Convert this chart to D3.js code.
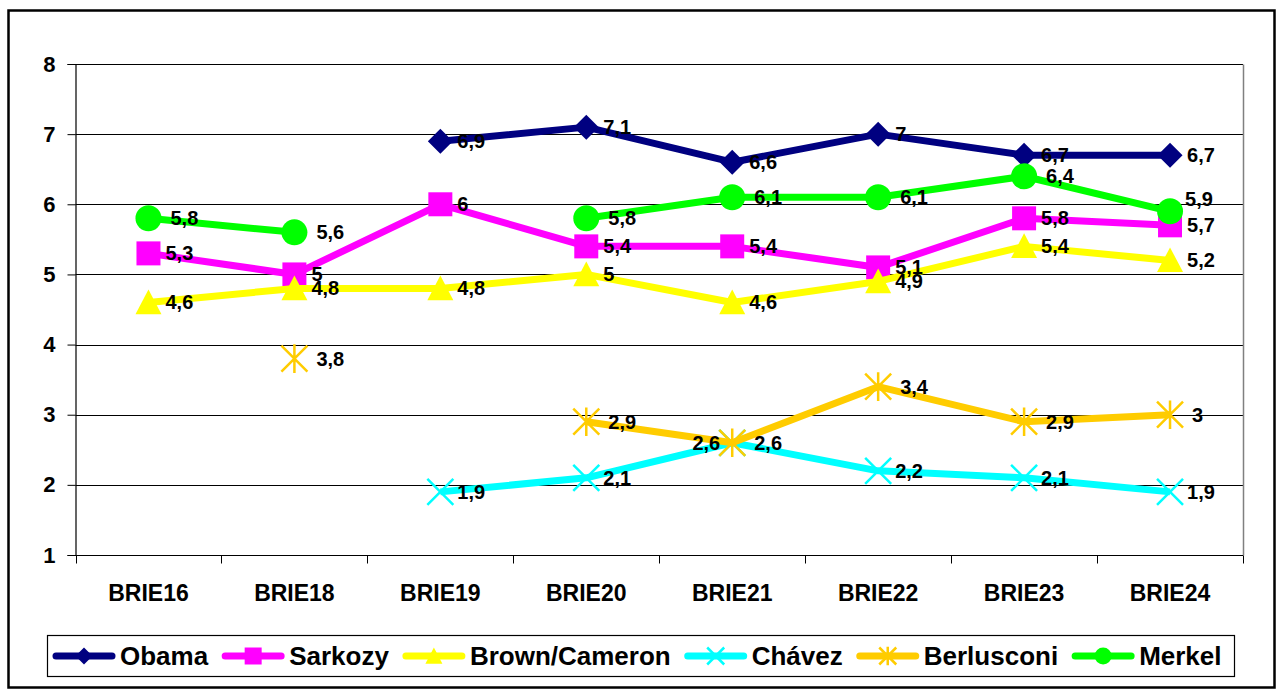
<!DOCTYPE html>
<html>
<head>
<meta charset="utf-8">
<script src="https://cdn.jsdelivr.net/npm/d3@7"></script>
<style>
  body { margin: 0; background: #fff; }
  svg { display: block; font-family: "Liberation Sans", Arial, sans-serif; font-weight: bold; }
</style>
</head>
<body>
<svg id="chart" width="1280" height="689"></svg>
<script>
// data
const categories = ["BRIE16", "BRIE18", "BRIE19", "BRIE20", "BRIE21", "BRIE22", "BRIE23", "BRIE24"];
const seriesNames = ["Obama", "Sarkozy", "Brown/Cameron", "Chávez", "Berlusconi", "Merkel"];
const obama      = [null, null, 6.9, 7.1, 6.6, 7.0, 6.7, 6.7];
const sarkozy    = [5.3, 5.0, 6.0, 5.4, 5.4, 5.1, 5.8, 5.7];
const brown      = [4.6, 4.8, 4.8, 5.0, 4.6, 4.9, 5.4, 5.2];
const chavez     = [null, null, 1.9, 2.1, 2.6, 2.2, 2.1, 1.9];
const berlusconi = [null, 3.8, null, 2.9, 2.6, 3.4, 2.9, 3.0];
const merkel     = [5.8, 5.6, null, 5.8, 6.1, 6.1, 6.4, 5.9];
const yTicks = [1, 2, 3, 4, 5, 6, 7, 8];

const seriesValues = [obama, sarkozy, brown, chavez, berlusconi, merkel];

// look of each series
const styles = {
  "Obama":         { color: "#000080", marker: "diamond",  labelDx: 17 },
  "Sarkozy":       { color: "#FF00FF", marker: "square",   labelDx: 17 },
  "Brown/Cameron": { color: "#FFFF00", marker: "triangle", labelDx: 17 },
  "Chávez":        { color: "#00FFFF", marker: "x",        labelDx: 17 },
  "Berlusconi":    { color: "#FFCC00", marker: "star",     labelDx: 22 },
  "Merkel":        { color: "#00FF00", marker: "circle",   labelDx: 22 }
};
// labels that were moved by hand in the original
const labelOverrides = {
  "Chávez|BRIE21": { dx: -12, dy: 0, anchor: "end" },
  "Merkel|BRIE24": { dx: 15, dy: -12, anchor: "start" }
};

const series = seriesNames.map((name, i) => ({
  name,
  values: categories.map((c, j) => ({ cat: c, v: seriesValues[i][j] }))
}));

const svg = d3.select("#chart");

// outer frame
svg.append("rect")
  .attr("x", 8.5).attr("y", 10.5)
  .attr("width", 1266).attr("height", 677)
  .attr("fill", "none").attr("stroke", "#000").attr("stroke-width", 2.5);

const plot = { left: 75.5, right: 1243, top: 64, bottom: 555 };

const x = d3.scaleBand().domain(categories).range([plot.left, plot.right]);
const y = d3.scaleLinear().domain([1, 8]).range([plot.bottom, plot.top]);
const cx = c => x(c) + x.bandwidth() / 2;
const ry = v => Math.round(y(v)) + 0.5;

// gridlines
svg.append("g")
  .selectAll("line")
  .data(yTicks.slice(1))
  .join("line")
  .attr("x1", plot.left).attr("x2", plot.right)
  .attr("y1", d => ry(d)).attr("y2", d => ry(d))
  .attr("stroke", "#000").attr("stroke-width", 1);

// plot area right border
svg.append("line")
  .attr("x1", plot.right + 0.5).attr("x2", plot.right + 0.5)
  .attr("y1", ry(8)).attr("y2", ry(1))
  .attr("stroke", "#808080").attr("stroke-width", 1.5);

// y axis
const yAxis = svg.append("g")
  .attr("transform", `translate(${plot.left},0)`)
  .call(d3.axisLeft(y).tickValues(yTicks).tickSize(8).tickPadding(12).tickFormat(d3.format("d")));
yAxis.select(".domain").attr("stroke", "#000").attr("stroke-width", 1.2);
yAxis.selectAll(".tick line").attr("stroke", "#000");
yAxis.selectAll("text")
  .style("font-size", "22px").style("font-weight", "bold")
  .attr("fill", "#000");

// x axis: ticks sit on the category boundaries
const bounds = categories.map(c => x(c)).concat([plot.right]);
const xAxis = svg.append("g").attr("transform", `translate(0,${ry(1)})`);
xAxis.append("line")
  .attr("x1", plot.left).attr("x2", plot.right)
  .attr("stroke", "#000").attr("stroke-width", 1.2);
xAxis.selectAll(".xtick")
  .data(bounds)
  .join("line")
  .attr("class", "xtick")
  .attr("x1", d => Math.round(d) + 0.5).attr("x2", d => Math.round(d) + 0.5)
  .attr("y1", 0).attr("y2", 8)
  .attr("stroke", "#000");
xAxis.selectAll(".xlabel")
  .data(categories)
  .join("text")
  .attr("class", "xlabel")
  .attr("x", d => cx(d))
  .attr("y", 37)
  .attr("text-anchor", "middle")
  .attr("dominant-baseline", "central")
  .style("font-size", "23px")
  .text(d => d);

// marker shapes
function markerPath(type, s) {
  const h = s / 2;
  switch (type) {
    case "diamond": return `M0,${-h}L${h},0L0,${h}L${-h},0Z`;
    case "square": return `M${-h},${-h}H${h}V${h}H${-h}Z`;
    case "triangle": return `M0,${-h}L${h},${h * 0.9}L${-h},${h * 0.9}Z`;
    case "x": return `M${-h},${-h}L${h},${h}M${h},${-h}L${-h},${h}`;
    case "star": return `M${-h},${-h}L${h},${h}M${h},${-h}L${-h},${h}M0,${-h * 1.1}V${h * 1.1}`;
    case "circle": return d3.arc()({ innerRadius: 0, outerRadius: h, startAngle: 0, endAngle: 2 * Math.PI });
  }
}
function drawMarker(sel, type, color, s) {
  const open = type === "x" || type === "star";
  sel.attr("d", markerPath(type, s))
    .attr("fill", open ? "none" : color)
    .attr("stroke", open ? color : "none")
    .attr("stroke-width", open ? 2.5 : 0);
}

const line = d3.line()
  .defined(d => d.v != null)
  .x(d => cx(d.cat))
  .y(d => y(d.v));

// series: line then markers
series.forEach(s => {
  const st = styles[s.name];
  const g = svg.append("g");
  g.append("path")
    .datum(s.values)
    .attr("d", line)
    .attr("fill", "none")
    .attr("stroke", st.color)
    .attr("stroke-width", 7)
    .attr("stroke-linejoin", "round");
  g.selectAll(".m")
    .data(s.values.filter(d => d.v != null))
    .join("path")
    .attr("class", "m")
    .attr("transform", d => `translate(${cx(d.cat)},${y(d.v)})`)
    .call(sel => drawMarker(sel, st.marker, st.color, st.marker === "diamond" ? 25 : st.marker === "square" ? 24 : 26));
});

// data labels on top
const fmt = v => String(v).replace(".", ",");
series.forEach(s => {
  const st = styles[s.name];
  svg.append("g")
    .selectAll("text")
    .data(s.values.filter(d => d.v != null))
    .join("text")
    .each(function(d) {
      const o = labelOverrides[s.name + "|" + d.cat] || { dx: st.labelDx, dy: 0, anchor: "start" };
      d3.select(this)
        .attr("x", cx(d.cat) + o.dx)
        .attr("y", y(d.v) + o.dy)
        .attr("text-anchor", o.anchor);
    })
    .attr("dominant-baseline", "central")
    .style("font-size", "20px")
    .text(d => fmt(d.v));
});

// legend
const legend = svg.append("g");
const legBox = { x: 47.5, y: 635.5, w: 1187, h: 41 };
legend.append("rect")
  .attr("x", legBox.x).attr("y", legBox.y)
  .attr("width", legBox.w).attr("height", legBox.h)
  .attr("fill", "#fff").attr("stroke", "#000").attr("stroke-width", 1.2);

let lx = 53;
const ly = legBox.y + legBox.h / 2;
seriesNames.forEach(name => {
  const st = styles[name];
  const item = legend.append("g");
  item.append("line")
    .attr("x1", lx + 3).attr("x2", lx + 59)
    .attr("y1", ly).attr("y2", ly)
    .attr("stroke", st.color).attr("stroke-width", 7)
    .attr("stroke-linecap", "round");
  item.append("path")
    .attr("transform", `translate(${lx + 31},${ly})`)
    .call(sel => drawMarker(sel, st.marker, st.color, 17));
  const t = item.append("text")
    .attr("x", lx + 67).attr("y", ly)
    .attr("dominant-baseline", "central")
    .style("font-size", "26px")
    .text(name);
  lx = lx + 67 + t.node().getComputedTextLength() + 14;
});
</script>
</body>
</html>
